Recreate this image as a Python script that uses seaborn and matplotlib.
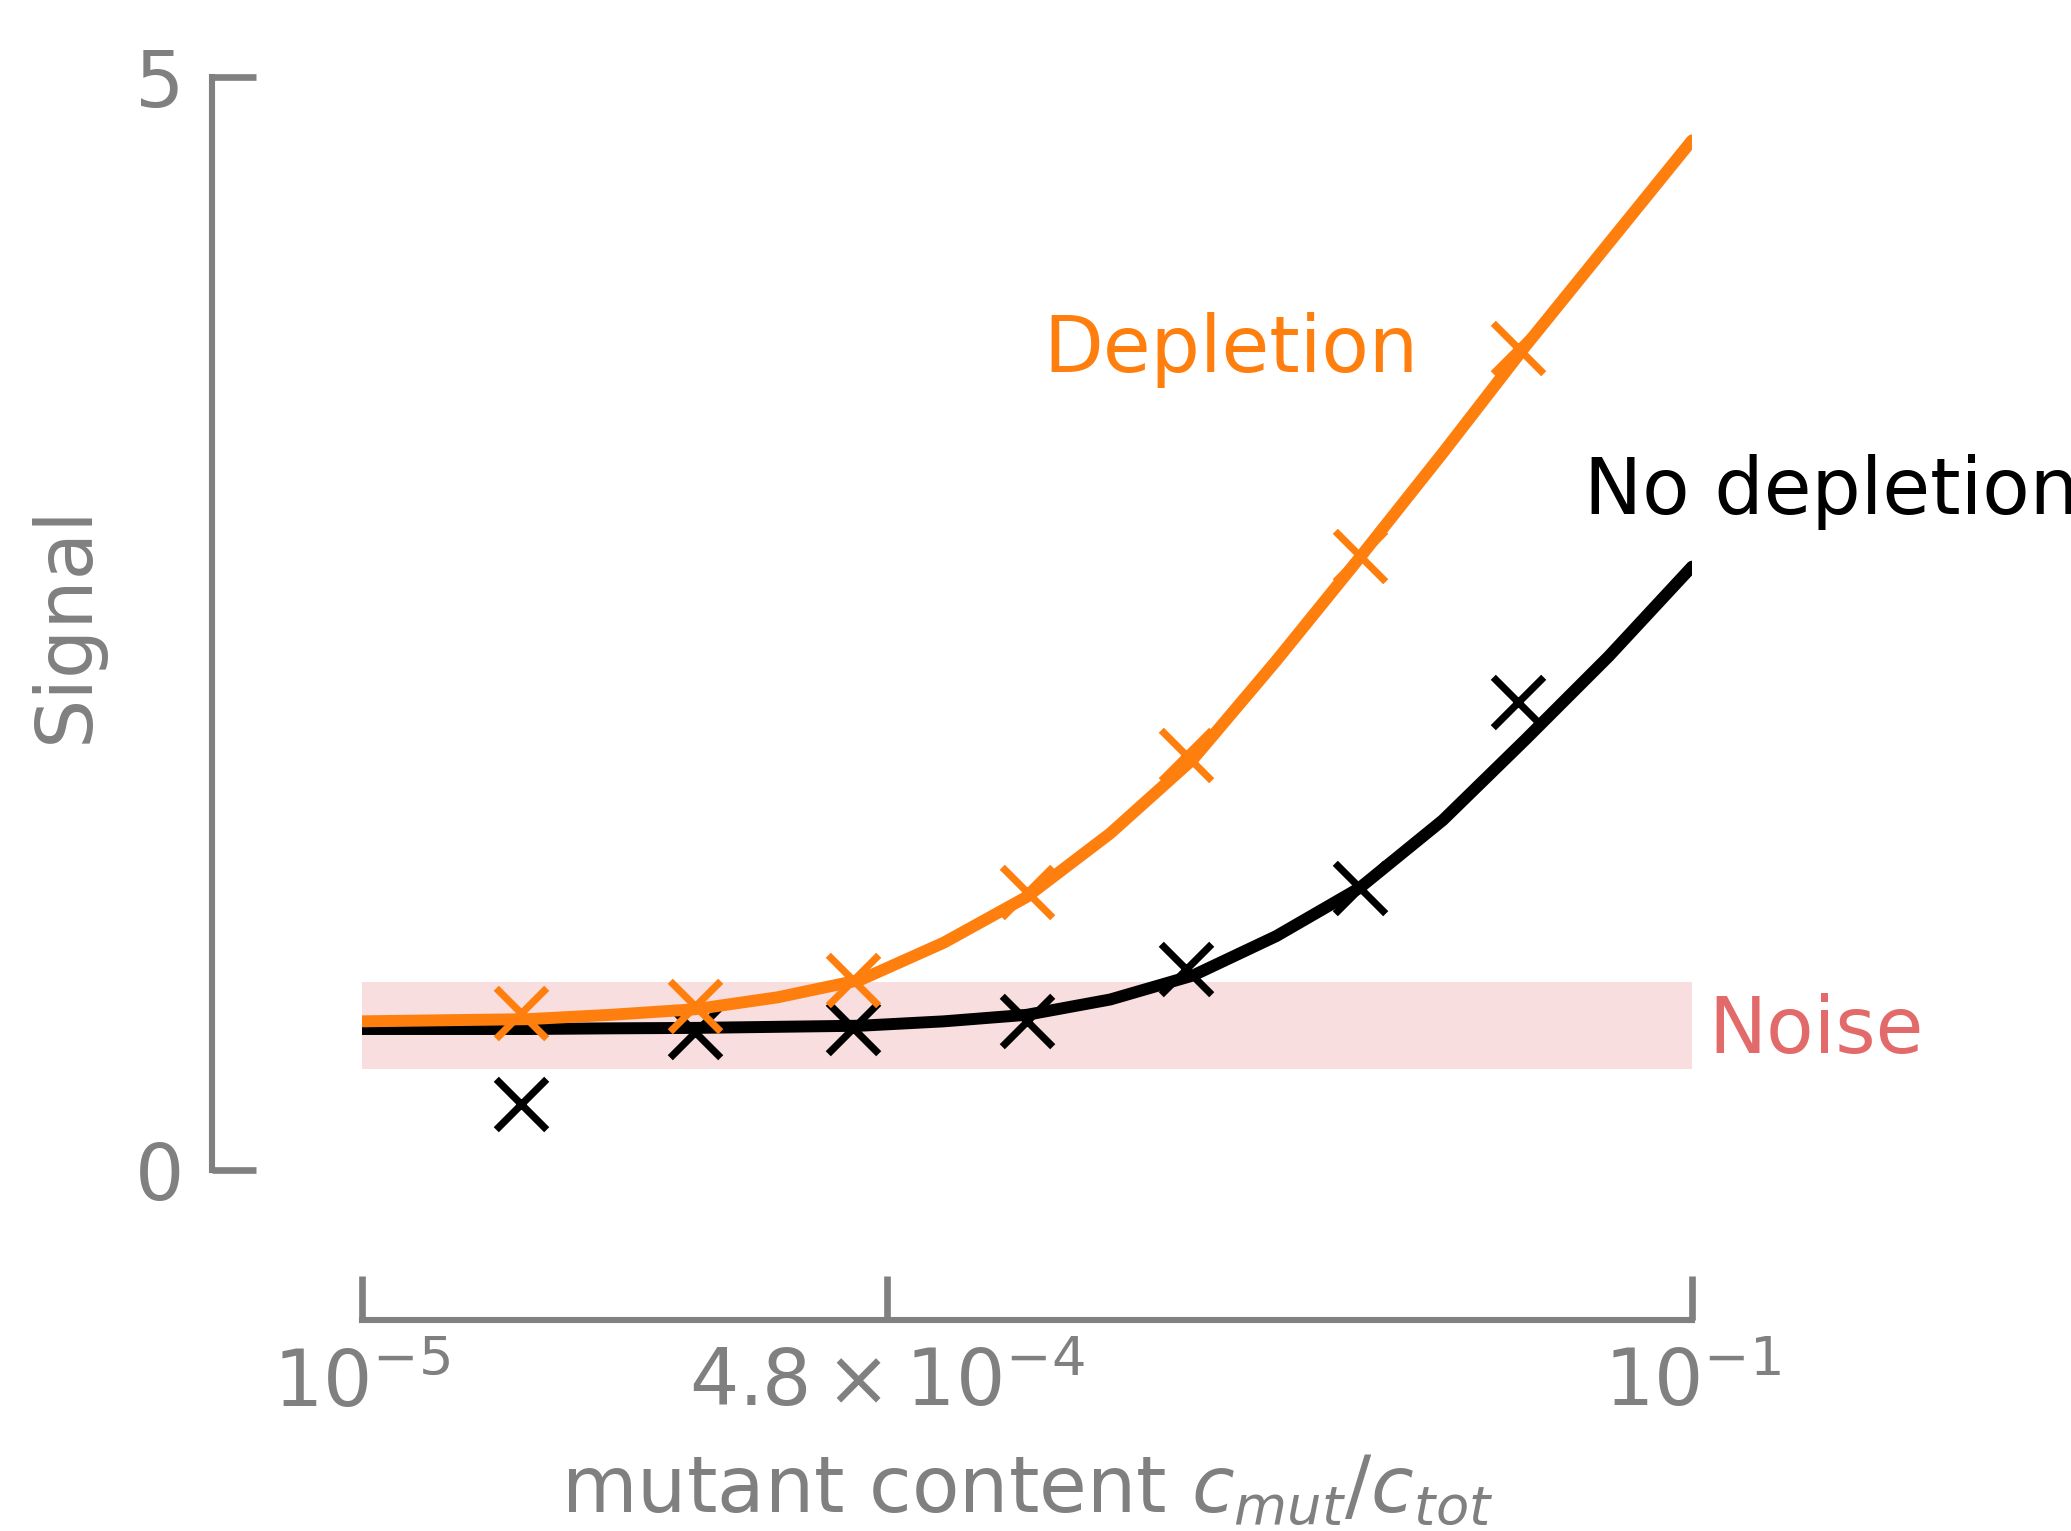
import matplotlib
matplotlib.use("Agg")
import matplotlib.pyplot as plt
import numpy as np
import pandas as pd
import seaborn as sns

# measured points
conc = [3e-5, 1e-4, 3e-4, 1e-3, 3e-3, 1e-2, 3e-2]
signal_no_depl = [0.30, 0.63, 0.65, 0.68, 0.92, 1.29, 2.14]
signal_depl = [0.72, 0.75, 0.87, 1.27, 1.90, 2.81, 3.76]

curve_x = [1e-5, 1.78e-5, 3.16e-5, 5.62e-5, 1e-4, 1.78e-4, 3.16e-4, 5.62e-4, 1e-3,
           1.78e-3, 3.16e-3, 5.62e-3, 1e-2, 1.78e-2, 3.16e-2, 5.62e-2, 1e-1]
curve_no_depl = [0.645, 0.645, 0.645, 0.648, 0.65, 0.655, 0.66, 0.68, 0.71,
                 0.78, 0.89, 1.07, 1.29, 1.60, 1.97, 2.35, 2.76]
curve_depl = [0.68, 0.685, 0.69, 0.71, 0.735, 0.79, 0.87, 1.04, 1.25,
              1.54, 1.88, 2.33, 2.80, 3.28, 3.77, 4.24, 4.71]

noise_band = [0.46, 0.86]
x_ticks = [1e-5, 3.8e-4, 1e-1]
x_ticklabels = [r"$10^{-5}$", r"$4.8\times10^{-4}$", r"$10^{-1}$"]
y_ticks = [0, 5]

orange = "#ff7f0e"
grey = "#808080"
noise_col = "#e26a6a"

sns.set_style("ticks")
plt.rcParams["font.family"] = ["DejaVu Sans"]
plt.rcParams["mathtext.fontset"] = "dejavusans"
plt.rcParams["lines.solid_joinstyle"] = "round"

pts = pd.DataFrame({"conc": conc, "no": signal_no_depl, "depl": signal_depl})
fit = pd.DataFrame({"x": curve_x, "no": curve_no_depl, "depl": curve_depl})

fig = plt.figure(figsize=(10.355, 7.655), dpi=200)
ax = fig.add_axes([0.1748, 0.2358, 0.6422, 0.7139])

ax.fill_between([curve_x[0], curve_x[-1]], noise_band[0], noise_band[1],
                color=noise_col, alpha=0.22, linewidth=0, zorder=0)

sns.lineplot(data=fit, x="x", y="no", color="black", linewidth=4.3, ax=ax, zorder=2)
sns.scatterplot(data=pts, x="conc", y="no", marker="x", color="black", s=330,
                linewidth=2.6, ax=ax, zorder=3)
sns.lineplot(data=fit, x="x", y="depl", color=orange, linewidth=4.3, ax=ax, zorder=4)
sns.scatterplot(data=pts, x="conc", y="depl", marker="x", color=orange, s=330,
                linewidth=2.6, ax=ax, zorder=5)

ax.set_xscale("log")
ax.set_xlim(1e-5, 1e-1)
ax.set_ylim(0, 5)

sns.despine(ax=ax, offset=54)
for side in ["left", "bottom"]:
    ax.spines[side].set_color(grey)
    ax.spines[side].set_linewidth(2.2)
ax.spines["left"].set_bounds(0, 5)
ax.spines["bottom"].set_bounds(1e-5, 1e-1)

ax.set_xticks(x_ticks)
ax.set_xticklabels(x_ticklabels)
ax.xaxis.set_minor_locator(matplotlib.ticker.NullLocator())
ax.set_yticks(y_ticks)
ax.tick_params(axis="both", direction="in", length=16, width=2.4, color=grey,
               labelcolor=grey, labelsize=28)
ax.tick_params(axis="y", pad=10)
ax.tick_params(axis="x", pad=9.5)

ax.set_ylabel("Signal", color=grey, fontsize=28, labelpad=11)
ax.set_xlabel(r"mutant content $c_{mut}/c_{tot}$", color=grey, fontsize=28, labelpad=11)

ax.text(1.12e-3, 3.65, "Depletion", color=orange, fontsize=28, va="baseline", ha="left")
ax.text(4.73e-2, 3.0, "No depletion", color="black", fontsize=28, va="baseline",
        ha="left", clip_on=False)
ax.text(0.1117, 0.535, "Noise", color=noise_col, fontsize=28, va="baseline",
        ha="left", clip_on=False)

fig.savefig("out.png", dpi=200)
